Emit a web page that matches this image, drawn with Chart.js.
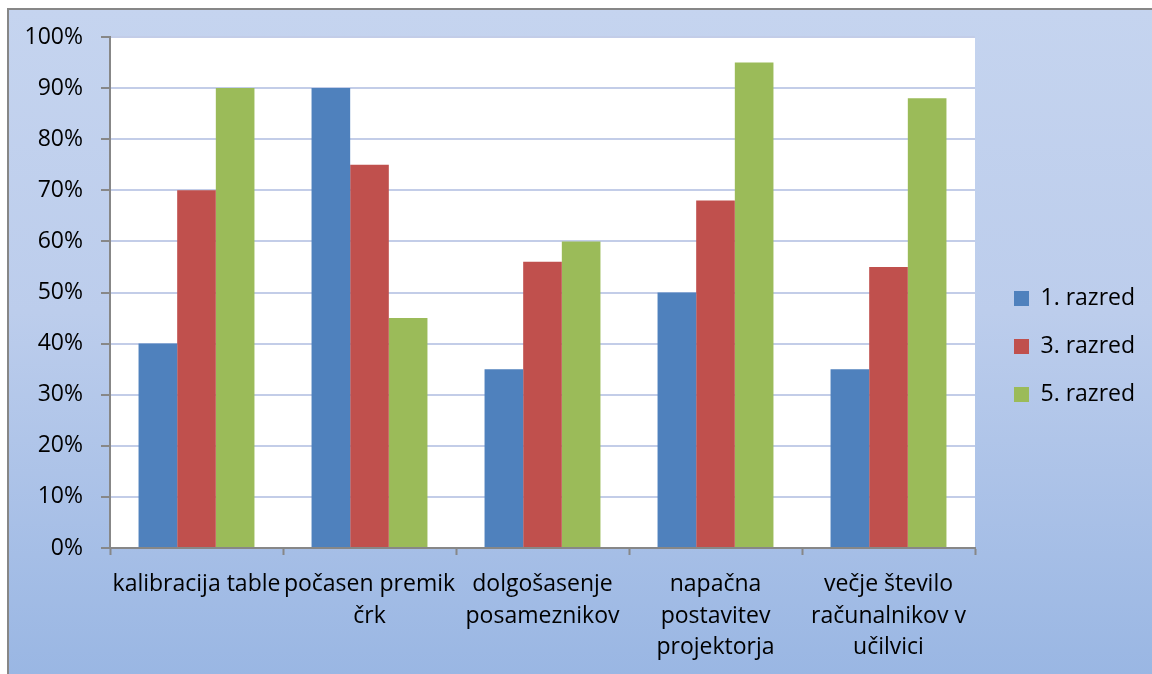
<!DOCTYPE html>
<html>
<head>
<meta charset="utf-8">
<script src="https://cdn.jsdelivr.net/npm/chart.js@4.4.1/dist/chart.umd.min.js"></script>
<style>
  html, body { margin: 0; padding: 0; background: #ffffff; overflow: hidden; width: 1152px; height: 674px; }
  #frame {
    position: absolute; left: 7px; top: 8px;
    width: 1160px; height: 672px;
    border: 2px solid #878787;
    background: linear-gradient(to bottom, #c5d4ef 0%, #bccdec 45%, #99b6e3 100%);
  }
  #wrap { position: absolute; left: 0; top: 0; width: 1160px; height: 672px; }
</style>
</head>
<body>
<div id="frame"><div id="wrap"><canvas id="c"></canvas></div></div>
<script>
// Problem categories (multi-line labels) and the share of each class per category
const categories = [
  'kalibracija table',
  ['počasen premik', 'črk'],
  ['dolgošasenje', 'posameznikov'],
  ['napačna', 'postavitev', 'projektorja'],
  ['večje število', 'računalnikov v', 'učilvici']
];
const seriesNames = ['1. razred', '3. razred', '5. razred'];
const razred1 = [40, 90, 35, 50, 35];
const razred3 = [70, 75, 56, 68, 55];
const razred5 = [90, 45, 60, 95, 88];
const seriesColors = ['#4f81bd', '#c0504d', '#9bbb59'];
const yTicks = [0, 10, 20, 30, 40, 50, 60, 70, 80, 90, 100];

const FONT = '"Open Sans", "Noto Sans", "DejaVu Sans", sans-serif';
const FONT_SIZE = 23;
const CANVAS_W = 1160;
const LEGEND_PAD = 25;
const BOX = 15;

// Legend width depends on the longest label; measure it so the
// legend column starts where intended.
const measureCtx = document.createElement('canvas').getContext('2d');
measureCtx.font = FONT_SIZE + 'px ' + FONT;
const legendTextW = Math.max(...seriesNames.map(n => measureCtx.measureText(n).width));
const legendW = LEGEND_PAD + BOX + FONT_SIZE / 2 + legendTextW;
const legendLeft = 990;            // legend box left edge inside the canvas
const rightPad = Math.max(0, CANVAS_W - legendLeft - legendW);

// White plotting area behind the bars
const plotBackground = {
  id: 'plotBackground',
  beforeDraw(chart) {
    const { ctx, chartArea: a } = chart;
    ctx.save();
    ctx.fillStyle = '#ffffff';
    ctx.fillRect(a.left, a.top, a.right - a.left, a.bottom - a.top);
    ctx.restore();
  }
};

const values = [razred1, razred3, razred5];

new Chart(document.getElementById('c'), {
  type: 'bar',
  data: {
    labels: categories,
    datasets: seriesNames.map((name, i) => ({
      label: name,
      data: values[i],
      backgroundColor: seriesColors[i],
      borderWidth: 0,
      categoryPercentage: 0.67,
      barPercentage: 1.0
    }))
  },
  options: {
    responsive: true,
    maintainAspectRatio: false,
    animation: false,
    layout: { padding: { top: 27, left: 0, right: rightPad, bottom: 0 } },
    plugins: {
      tooltip: { enabled: false },
      legend: {
        position: 'right',
        align: 'start',
        title: {
          display: true,
          text: '',
          font: { size: 10, lineHeight: 1 },
          padding: { top: 215, bottom: 0 }
        },
        labels: {
          color: '#000000',
          font: { family: FONT, size: FONT_SIZE },
          boxWidth: BOX,
          boxHeight: BOX,
          padding: LEGEND_PAD
        }
      }
    },
    scales: {
      x: {
        offset: true,
        grid: {
          offset: true,
          drawOnChartArea: false,
          drawTicks: true,
          tickLength: 7,
          tickColor: '#878787',
          tickWidth: 2
        },
        border: { display: true, color: '#878787', width: 2 },
        ticks: {
          color: '#000000',
          font: { family: FONT, size: FONT_SIZE, lineHeight: 1.37 },
          autoSkip: false,
          maxRotation: 0,
          minRotation: 0,
          padding: 14
        },
        afterFit(s) { s.height = 134; }
      },
      y: {
        min: 0,
        max: 100,
        grid: {
          color: '#c3cde8',
          lineWidth: 2,
          tickColor: '#878787',
          tickWidth: 2,
          tickLength: 9
        },
        border: { display: true, color: '#878787', width: 2 },
        afterBuildTicks(s) { s.ticks = yTicks.map(v => ({ value: v })); },
        ticks: {
          color: '#000000',
          // small line height keeps the top label from padding the plot downwards
          font: { family: FONT, size: FONT_SIZE, lineHeight: 0.6 },
          padding: 18,
          callback: v => v + '%'
        },
        afterFit(s) { s.width = 101; }
      },
      // empty spacer between the plot and the legend
      gap: {
        type: 'linear',
        position: 'right',
        display: true,
        grid: { display: false },
        border: { display: false },
        ticks: { display: false },
        afterFit(s) { s.width = 14; }
      }
    }
  },
  plugins: [plotBackground]
});
</script>
</body>
</html>
